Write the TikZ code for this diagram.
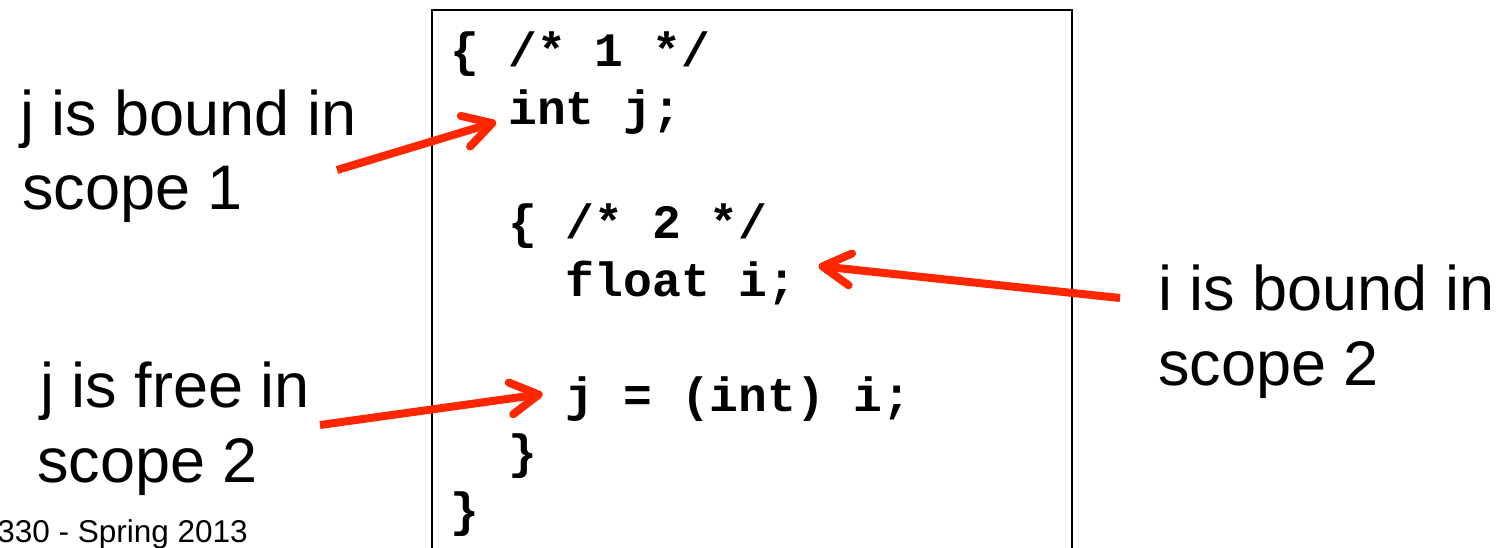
\documentclass[tikz,border=0pt]{standalone}
\usepackage{fontspec}
\setmainfont{Liberation Sans}
\setmonofont{Liberation Mono}
\usetikzlibrary{arrows.meta,calc}
\definecolor{arrred}{RGB}{255,38,0}
\tikzset{
  lbl/.style={font=\fontsize{63}{74}\selectfont, inner sep=0pt, anchor=base west},
  foot/.style={font=\fontsize{31.5}{36}\selectfont, inner sep=0pt, anchor=base east},
  codeline/.style={font=\fontsize{48}{57}\selectfont\ttfamily\bfseries, inner sep=0pt, anchor=base west},
  redarrow/.style={draw=arrred, line width=8pt, line cap=butt,
    -{Straight Barb[length=28pt,width=32pt,round]}},
  codebox/.style={draw=black, line width=2pt}
}
\begin{document}
\begin{tikzpicture}[x=1pt,y=-1pt]
\useasboundingbox (0,0) rectangle (1503,547);
\clip (0,0) rectangle (1503,547);
\fill[white] (0,0) rectangle (1503,547);
% code box (bottom edge cut off)
\draw[codebox] (432,560) -- (432,10) -- (1072,10) -- (1072,560);
% code lines
\node[codeline] (c1) at (450.5,66) {\{ /* 1 */};
\node[codeline] (c2) at (508.1,124) {int j;};
\node[codeline] (c4) at (508.1,238) {\{ /* 2 */};
\node[codeline] (c5) at (565.7,296) {float i;};
\node[codeline] (c7) at (565.7,411) {j = (int) i;};
\node[codeline] (c8) at (508.1,468) {\}};
\node[codeline] (c9) at (450.5,526) {\}};
% labels
\node[lbl] (l1a) at (20,135) {j is bound in};
\node[lbl] (l1b) at (22,209) {scope 1};
\node[lbl] (l2a) at (40,407) {j is free in};
\node[lbl] (l2b) at (37,482) {scope 2};
\node[lbl] (r1a) at (1158,310) {i is bound in};
\node[lbl] (r1b) at (1158,385) {scope 2};
\node[foot] (ft) at (248,542) {330 - Spring 2013};
% arrows
\coordinate (s1) at (337,170);
\coordinate (t1) at ($(c2.base west)+(-12,-2)$);
\coordinate (s2) at (320,425);
\coordinate (t2) at ($(c7.base west)+(-23,-17)$);
\coordinate (s3) at (1120,298);
\coordinate (t3) at ($(c5.base east)+(22,-30)$);
\draw[redarrow] (s1) -- (t1);
\draw[redarrow] (s2) -- (t2);
\draw[redarrow] (s3) -- (t3);
\end{tikzpicture}
\end{document}
